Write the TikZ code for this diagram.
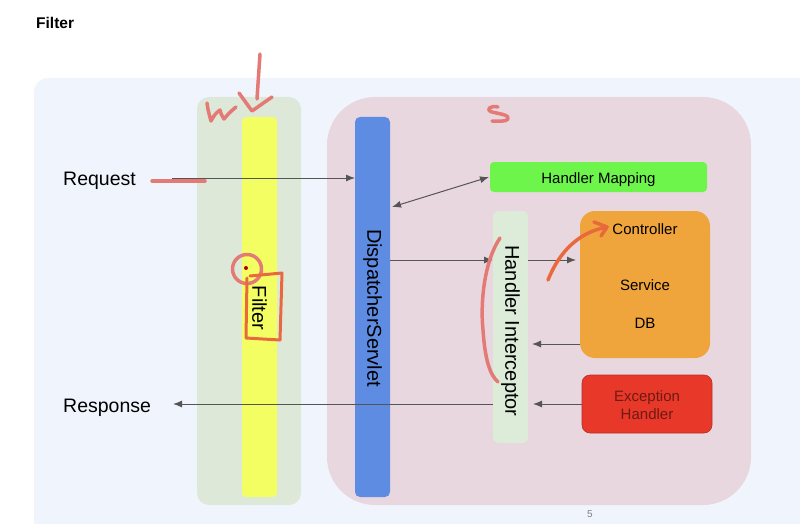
\documentclass[tikz,border=0pt]{standalone}
\usepackage{fontspec}
\setmainfont{Liberation Sans}
\usetikzlibrary{arrows.meta}
\definecolor{panelbg}{HTML}{F0F5FD}
\definecolor{wband}{HTML}{DDE8D8}
\definecolor{filteryel}{HTML}{F3FE62}
\definecolor{sband}{HTML}{E8D7DE}
\definecolor{dsblue}{HTML}{5E8CE2}
\definecolor{hmgreen}{HTML}{6DF54C}
\definecolor{higreen}{HTML}{DDEBD9}
\definecolor{ctrlorange}{HTML}{F0A43C}
\definecolor{exred}{HTML}{E8382A}
\definecolor{extext}{HTML}{6E1A12}
\definecolor{arrowgray}{HTML}{555555}
\definecolor{pen}{HTML}{E37A75}
\definecolor{penorange}{HTML}{E8693E}
\tikzset{
  conn/.style={draw=arrowgray, line width=1pt, -{Latex[length=9pt,width=7pt]}},
  biconn/.style={draw=arrowgray, line width=1pt, {Latex[length=9pt,width=7pt]}-{Latex[length=9pt,width=7pt]}},
  penline/.style={draw=pen, line width=3.5pt, line cap=round, line join=round},
  penorg/.style={draw=penorange, line width=3.5pt, line cap=round, line join=round},
  vbar/.style={inner sep=0pt, outer sep=0pt},
  lbl/.style={font=\fontsize{19.5}{22}\selectfont, text=black, inner sep=0pt},
  vtext/.style={font=\fontsize{20}{24}\selectfont, text=black, rotate=-90, inner sep=0pt},
  boxtext/.style={font=\fontsize{15}{18}\selectfont, text=black, inner sep=0pt}
}
\begin{document}
\begin{tikzpicture}[x=1pt,y=-1pt]
\useasboundingbox (0,0) rectangle (800,524);
\clip (0,0) rectangle (800,524);
\fill[white] (0,0) rectangle (800,524);
% title
\node[anchor=base west, font=\bfseries\fontsize{15.5}{18}\selectfont, inner sep=0pt] (title) at (36,29) {Filter};
% panel
\fill[panelbg, rounded corners=14pt] (34,78) rectangle (830,560);
% W band
\fill[wband, rounded corners=12pt] (197,97) rectangle (301,505);
\node[vbar, fill=filteryel, rounded corners=4pt, minimum width=35pt, minimum height=380pt, anchor=north west] (filter) at (242,117) {};
\node[vtext] (filtertxt) at (259.5,308) {Filter};
% S band
\fill[sband, rounded corners=48pt] (327,97) rectangle (751,505);
% DispatcherServlet
\node[vbar, fill=dsblue, rounded corners=5pt, minimum width=35pt, minimum height=380pt, anchor=north west] (ds) at (355,117) {};
\node[vtext] (dstxt) at (372.5,308) {DispatcherServlet};
% Handler Mapping
\node[vbar, fill=hmgreen, rounded corners=4pt, minimum width=217pt, minimum height=30pt, anchor=north west] (hm) at (490,162) {};
\node[boxtext, anchor=base] at (598.5,183) {Handler Mapping};
% Handler Interceptor
\node[vbar, fill=higreen, rounded corners=5pt, minimum width=35pt, minimum height=232pt, anchor=north west] (hi) at (493,211) {};
\node[vtext] (hitxt) at (510.5,331) {Handler Interceptor};
% Controller box
\node[vbar, fill=ctrlorange, rounded corners=15pt, minimum width=130pt, minimum height=147pt, anchor=north west] (ctrl) at (580,211) {};
\node[boxtext, anchor=base] at (645,234) {Controller};
\node[boxtext, anchor=base] at (645,290) {Service};
\node[boxtext, anchor=base] at (645,328) {DB};
% Exception handler
\node[vbar, fill=exred, draw=exred!80!black, line width=0.6pt, rounded corners=8pt, minimum width=130pt, minimum height=58pt, anchor=north west] (ex) at (582,375) {};
\node[boxtext, text=extext, align=center, font=\fontsize{15}{18}\selectfont] at (647,405) {Exception\\Handler};
% labels
\node[lbl, anchor=base west] (req) at (63,185) {Request};
\node[lbl, anchor=base west] (resp) at (63,412) {Response};
% connectors
\coordinate (reqstart) at (172,178);
\coordinate (respend) at (173,404);
\draw[conn] (reqstart) -- (ds.west |- reqstart);
\draw[biconn] (392,207) -- (489,177);
\draw[conn] (ds.east |- 0,260) -- (hi.west |- 0,260);
\draw[conn] (hi.east |- 0,260) -- (576,260);
\draw[conn] (ctrl.west |- 0,344) -- (532,344);
\draw[conn] (ex.west |- 0,404) -- (533,404);
\draw[conn] (hi.west |- 0,404) -- (respend);
% page number
\node[font=\fontsize{10}{12}\selectfont, text=gray, inner sep=0pt] (pg) at (590,514) {5};
% pen annotations
\draw[penline] (207,103) .. controls (208,110) .. (211,121) .. controls (215,114) .. (220,110) .. controls (221,114) .. (224,119) .. controls (229,113) .. (236,107);
\draw[penline] (260,54) -- (257,99);
\draw[penline] (239,93) -- (252,111) -- (272,97);
\draw[penline] (152,181) -- (205,181);
\draw[penline] (498,107) .. controls (490,105) and (485,110) .. (492,112) .. controls (500,114) and (510,115) .. (508,119) .. controls (506,122) and (498,121) .. (492,121);
\draw[penline] (247,269) circle (14.5);
\fill[red!70!black] (246,268) circle (2);
\draw[penorg, line width=3pt] (250,276) -- (282,273) -- (280,340) -- (246,338) -- (247,278);
\draw[penline] (500,238) .. controls (485,260) and (480,300) .. (483,330) .. controls (485,360) and (490,375) .. (498,382);
\draw[penorg] (548,280) .. controls (560,250) and (580,232) .. (607,227);
\draw[penorg] (594,222) -- (607,227) -- (601,236);
\end{tikzpicture}
\end{document}
